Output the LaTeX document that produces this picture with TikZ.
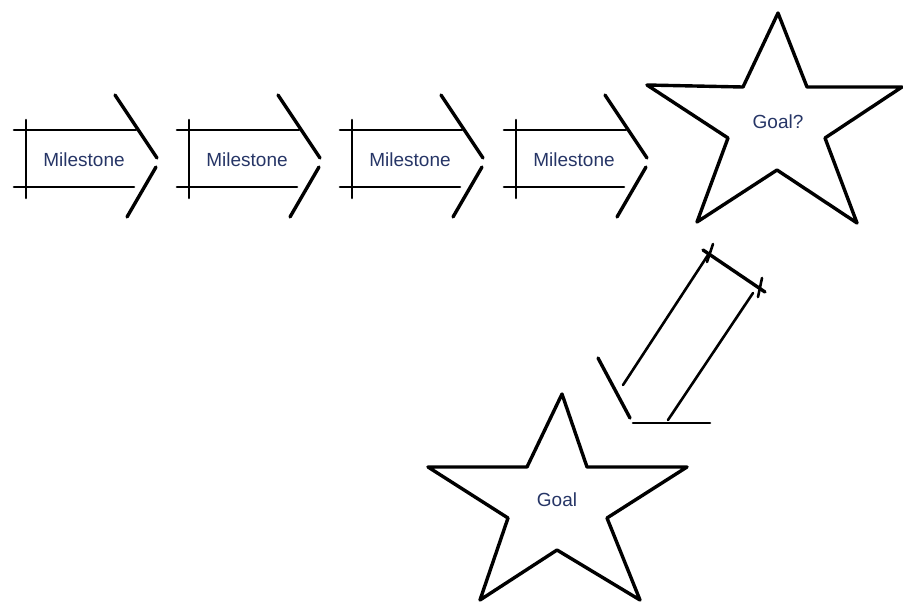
\documentclass[tikz,border=0pt]{standalone}
\usepackage{fontspec}
\setmainfont{Liberation Sans}
\definecolor{inkblue}{HTML}{263566}
\tikzset{
  sketch/.style={line width=3.4pt, line cap=round, line join=round, black},
  thinsketch/.style={sketch, line width=2.6pt},
  label/.style={text=inkblue, font=\fontsize{19}{21}\selectfont, inner sep=0pt},
}
\begin{document}
\begin{tikzpicture}[x=1pt,y=-1pt]
\useasboundingbox (0,0) rectangle (903,603);
% milestone arrows
\foreach \i/\vx in {1/26,2/189,3/352,4/516}{
  \begin{scope}[shift={(\vx,0)}]
    \draw[thinsketch] (-12,130) -- (110,130);
    \draw[thinsketch] (-12,187) -- (108,187);
    \draw[thinsketch] (0,120) -- (0,198);
    \draw[sketch] (89,95) -- (131,158);
    \draw[sketch] (130,167) -- (101,217);
    \node[label] (m\i) at (58,160) {Milestone};
  \end{scope}
}
% Goal? star
\draw[sketch] (778,13) -- (807,87) -- (902,87) -- (825,138) -- (857,223)
  -- (777,170) -- (697,222) -- (728,138) -- (647,85) -- (743,87) -- cycle;
\node[label] (g1) at (778,122) {Goal?};
% arrow from Goal? to Goal
\draw[sketch] (703,250) -- (765,292);
\draw[thinsketch] (713,244) -- (707,262);
\draw[thinsketch] (762,278) -- (758,297);
\draw[thinsketch] (708,255) -- (623,385);
\draw[thinsketch] (753,293) -- (668,420);
\draw[sketch] (598,358) -- (630,418);
\draw[thinsketch] (633,423) -- (710,423);
% Goal star
\draw[sketch] (562,394) -- (587,467) -- (687,467) -- (607,518) -- (640,600)
  -- (557,550) -- (480,600) -- (508,518) -- (428,467) -- (527,467) -- cycle;
\node[label] (g2) at (557,500) {Goal};
\end{tikzpicture}
\end{document}
